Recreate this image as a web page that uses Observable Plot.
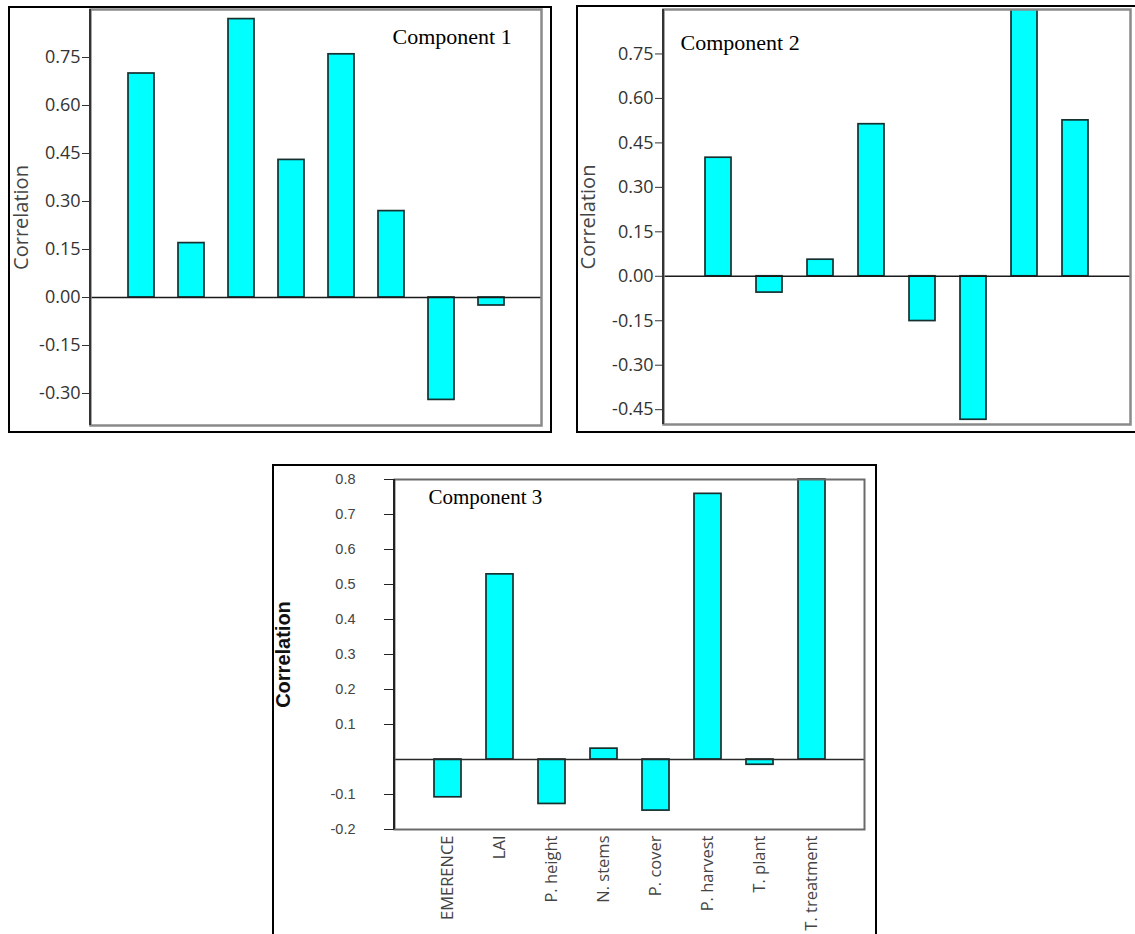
<!DOCTYPE html>
<html><head><meta charset="utf-8">
<script src="https://cdn.jsdelivr.net/npm/d3@7"></script>
<script src="https://cdn.jsdelivr.net/npm/@observablehq/plot@0.6"></script>
<style>
html,body{margin:0;padding:0;background:#fff;}
#page{position:relative;width:1135px;height:934px;overflow:hidden;background:#fff;}
.panel{position:absolute;}
.panel svg{display:block;background:transparent;overflow:visible;}
.border{position:absolute;border:2px solid #000;box-sizing:border-box;pointer-events:none;}
</style></head><body><div id="page"></div>
<script>
// ---- data ----
const categories = ["EMERENCE", "LAI", "P. height", "N. stems", "P. cover", "P. harvest", "T. plant", "T. treatment"];
const comp1 = [0.70, 0.17, 0.87, 0.43, 0.76, 0.27, -0.32, -0.025];
const comp2 = [0.40, -0.055, 0.056, 0.513, -0.151, -0.484, 0.90, 0.526];
const comp3 = [-0.108, 0.529, -0.127, 0.031, -0.146, 0.759, -0.015, 0.80];
const titles = ["Component 1", "Component 2", "Component 3"];
const yTicks1 = [-0.30, -0.15, 0.00, 0.15, 0.30, 0.45, 0.60, 0.75];
const yTicks2 = [-0.45, -0.30, -0.15, 0.00, 0.15, 0.30, 0.45, 0.60, 0.75];
const yTicks3 = [-0.2, -0.1, 0.1, 0.2, 0.3, 0.4, 0.5, 0.6, 0.7, 0.8];
const yLabel = "Correlation";

const page = document.getElementById("page");

function leftLine(color, w) {
  return (index, scales, values, dims) => {
    const l = document.createElementNS("http://www.w3.org/2000/svg", "line");
    l.setAttribute("x1", dims.marginLeft);
    l.setAttribute("x2", dims.marginLeft);
    l.setAttribute("y1", dims.marginTop);
    l.setAttribute("y2", dims.height - dims.marginBottom);
    l.setAttribute("stroke", color);
    l.setAttribute("stroke-width", w);
    return l;
  };
}

function placeSvg(svg, left, top) {
  const d = document.createElement("div");
  d.className = "panel";
  d.style.left = left + "px";
  d.style.top = top + "px";
  d.appendChild(svg);
  page.appendChild(d);
}
function border(left, top, bw, bh) {
  const b = document.createElement("div");
  b.className = "border";
  b.style.left = left + "px";
  b.style.top = top + "px";
  b.style.width = bw + "px";
  b.style.height = bh + "px";
  page.appendChild(b);
}

function topPanel(values, ticks, domain, title, cfg) {
  const data = categories.map((c, i) => ({cat: c, v: values[i]}));
  return Plot.plot({
    width: cfg.width, height: cfg.height,
    marginLeft: cfg.ml, marginRight: cfg.mr, marginTop: cfg.mt, marginBottom: cfg.mb,
    style: {fontFamily: "'Open Sans', sans-serif", fontSize: "18px", color: "#333", background: "transparent"},
    x: {domain: categories, paddingInner: 0.49, paddingOuter: 0.75, axis: null},
    y: {domain: domain},
    marks: [
      Plot.barY(data, {x: "cat", y: "v", fill: "#00ffff", stroke: "#163030", strokeWidth: 1.7, clip: true}),
      Plot.ruleY([0], {stroke: "#1a1a1a", strokeWidth: 1.6}),
      Plot.frame({stroke: "#8a8a8a", strokeWidth: 2.5}),
      leftLine("#333", 2),
      Plot.axisY({ticks: ticks, tickFormat: d => d.toFixed(2), tickSize: 8, tickPadding: 2, label: null, fill: "#333", stroke: "#333", fontSize: 18}),
      Plot.text([yLabel], {frameAnchor: "left", dx: cfg.labelX - cfg.ml, rotate: -90, textAnchor: "middle", lineAnchor: "middle", fontSize: 20, fill: "#444", fontFamily: "'Open Sans', sans-serif"}),
      Plot.text([title], {frameAnchor: "top-left", dx: cfg.tx - cfg.ml, dy: cfg.ty - cfg.mt, textAnchor: "start", lineAnchor: "bottom", fontSize: 22, fill: "#000", fontFamily: "'Liberation Serif', serif"})
    ]
  });
}

// Panel 1 (svg starts at page x 0, y 6)
const p1 = topPanel(comp1, yTicks1, [-0.4, 0.9], titles[0],
  {width: 552, height: 427, ml: 90, mr: 11, mt: 3, mb: 8, labelX: 21, tx: 392, ty: 37});
placeSvg(p1, 0, 6);
border(8, 6, 544, 427);

// Panel 2 (svg starts at page x 566, y 5)
const p2 = topPanel(comp2, yTicks2, [-0.5, 0.9], titles[1],
  {width: 569, height: 428, ml: 97, mr: 5, mt: 4, mb: 9, labelX: 22, tx: 114, ty: 44});
placeSvg(p2, 566, 5);
border(576, 5, 570, 428);

// Panel 3
const data3 = categories.map((c, i) => ({cat: c, v: comp3[i]}));
const p3 = Plot.plot({
  width: 605, height: 470,
  marginLeft: 122, marginRight: 13, marginTop: 15, marginBottom: 105,
  style: {fontFamily: "'Liberation Sans', Arial, sans-serif", fontSize: "14px", color: "#444", background: "transparent"},
  x: {domain: categories, paddingInner: 0.49, paddingOuter: 0.74},
  y: {domain: [-0.2, 0.8]},
  marks: [
    Plot.barY(data3, {x: "cat", y: "v", fill: "#00ffff", stroke: "#163030", strokeWidth: 1.7}),
    Plot.ruleY([0], {stroke: "#2a2a2a", strokeWidth: 1.6}),
    Plot.frame({stroke: "#6a6a6a", strokeWidth: 2}),
    leftLine("#222", 2),
    Plot.axisY({ticks: yTicks3, tickFormat: d => String(d), tickSize: 10, tickPadding: 29, label: null, fill: "#444", stroke: "#222", fontSize: 14.5, fontFamily: "'Liberation Sans', Arial, sans-serif"}),
    Plot.axisX({tickRotate: -90, tickSize: 0, tickPadding: 6, label: null, fill: "#444", fontSize: 16.5, fontFamily: "'Open Sans', sans-serif"}),
    Plot.text([yLabel], {frameAnchor: "left", dx: 11 - 122, rotate: -90, textAnchor: "middle", lineAnchor: "middle", fontSize: 20, fontWeight: "bold", fill: "#111", fontFamily: "'Liberation Sans', Arial, sans-serif"}),
    Plot.text([titles[2]], {frameAnchor: "top-left", dx: 156 - 122, dy: 39 - 15, textAnchor: "start", lineAnchor: "bottom", fontSize: 21, fill: "#000", fontFamily: "'Liberation Serif', serif"})
  ]
});
placeSvg(p3, 272, 464);
border(272, 464, 605, 480);
</script>
</body></html>
